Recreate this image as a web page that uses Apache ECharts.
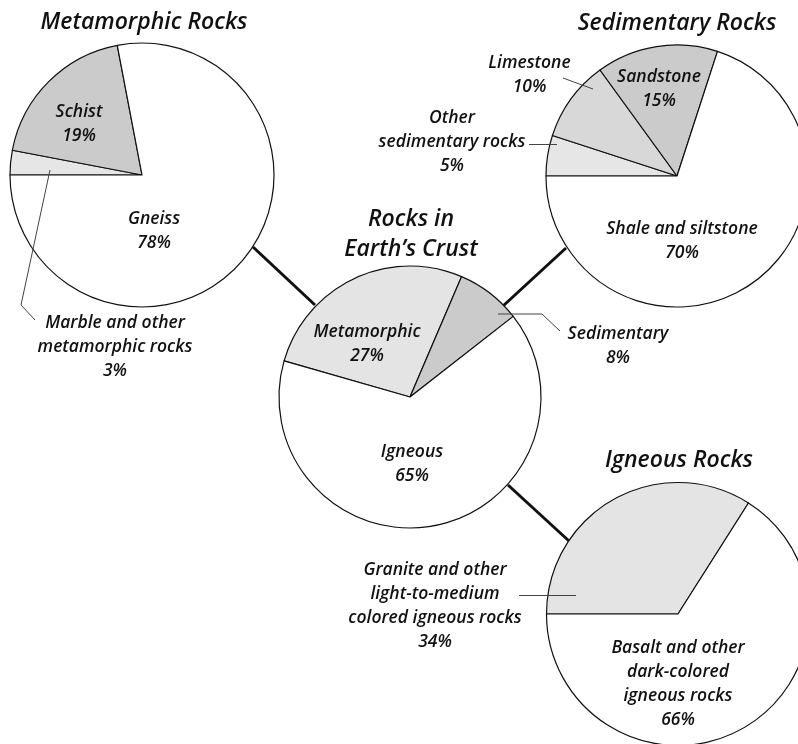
<!DOCTYPE html>
<html>
<head>
<meta charset="utf-8">
<script src="https://cdn.jsdelivr.net/npm/echarts@6/dist/echarts.min.js"></script>
<style>
html,body{margin:0;padding:0;background:#fff;}
#chart{width:798px;height:744px;}
</style>
</head>
<body>
<div id="chart"></div>
<script>
// ---------- DATA ----------
const metaNames = ['Marble and other\nmetamorphic rocks', 'Schist', 'Gneiss'];
const metaValues = [3, 19, 78];
const sedNames = ['Other\nsedimentary rocks', 'Limestone', 'Sandstone', 'Shale and siltstone'];
const sedValues = [5, 10, 15, 70];
const crustNames = ['Metamorphic', 'Sedimentary', 'Igneous'];
const crustValues = [27, 8, 65];
const ignNames = ['Granite and other\nlight-to-medium\ncolored igneous rocks', 'Basalt and other\ndark-colored\nigneous rocks'];
const ignValues = [34, 66];
const titleTexts = ['Metamorphic Rocks', 'Sedimentary Rocks', 'Rocks in\nEarth\u2019s Crust', 'Igneous Rocks'];

// ---------- STYLE / LAYOUT ----------
const FONT = '"Open Sans", "DejaVu Sans", sans-serif';
const metaColors = ['#e6e6e6', '#cbcbcb', '#ffffff'];
const sedColors = ['#e6e6e6', '#d8d8d8', '#cbcbcb', '#ffffff'];
const crustColors = ['#e4e4e4', '#cbcbcb', '#ffffff'];
const ignColors = ['#e4e4e4', '#ffffff'];

const pieLayout = [
  {center: [142, 175], r: 132, start: 180},
  {center: [677, 176], r: 131, start: 180},
  {center: [410, 397], r: 131, start: 164},
  {center: [678, 614], r: 131.5, start: 180}
];
const labelPos = [
  [[115, 347], [79, 124.5], [154, 231.5]],
  [[452, 142], [529.5, 75], [659, 89], [682, 241]],
  [[367, 344], [618, 346], [412, 464]],
  [[435, 606], [678, 684]]
];
const titlePos = [[144, 22], [677, 23], [411, 234], [679, 460]];
const connectors = [
  [[253, 247], [315, 305]],
  [[503, 306], [566, 248]],
  [[508, 485], [569, 541]]
];
const leaders = [
  [[50, 170], [21, 305], [35, 320]],
  [[563, 78], [593, 89]],
  [[529, 144.5], [557, 144.5]],
  [[498, 314], [542, 314], [560, 331]],
  [[519, 595.5], [576, 595.5]]
];

function makePie(idx, names, values, colors) {
  const L = pieLayout[idx];
  return {
    type: 'pie',
    center: L.center,
    radius: [0, L.r],
    startAngle: L.start,
    clockwise: true,
    silent: true,
    animation: false,
    avoidLabelOverlap: false,
    data: names.map((n, i) => ({
      name: n,
      value: values[i],
      itemStyle: {color: colors[i]}
    })),
    itemStyle: {borderColor: '#111', borderWidth: 1.2},
    label: {
      show: true,
      position: 'inside',
      formatter: p => p.name + '\n' + p.value + '%',
      fontFamily: FONT,
      fontStyle: 'italic',
      fontWeight: 600,
      fontSize: 17.5,
      lineHeight: 24,
      color: '#111',
      align: 'center'
    },
    labelLine: {show: false},
    labelLayout: p => {
      const pos = labelPos[idx][p.dataIndex];
      return {x: pos[0], y: pos[1], align: 'center', verticalAlign: 'middle'};
    },
    emphasis: {disabled: true}
  };
}

const chart = echarts.init(document.getElementById('chart'), null, {renderer: 'canvas'});

const graphics = [];
connectors.forEach(c => graphics.push({
  type: 'polyline', z: 0, silent: true,
  shape: {points: c},
  style: {stroke: '#111', lineWidth: 3, fill: null}
}));
leaders.forEach(c => graphics.push({
  type: 'polyline', z: 100, silent: true,
  shape: {points: c},
  style: {stroke: '#444', lineWidth: 1, fill: null}
}));

chart.setOption({
  backgroundColor: '#ffffff',
  animation: false,
  title: titleTexts.map((t, i) => ({
    text: t,
    left: titlePos[i][0],
    top: titlePos[i][1],
    padding: 0,
    textAlign: 'center',
    textVerticalAlign: 'middle',
    textStyle: {
      fontFamily: FONT,
      fontStyle: 'italic',
      fontWeight: 600,
      fontSize: 23,
      lineHeight: 30,
      color: '#111'
    }
  })),
  graphic: graphics,
  series: [
    makePie(0, metaNames, metaValues, metaColors),
    makePie(1, sedNames, sedValues, sedColors),
    makePie(2, crustNames, crustValues, crustColors),
    makePie(3, ignNames, ignValues, ignColors)
  ]
});
</script>
</body>
</html>
